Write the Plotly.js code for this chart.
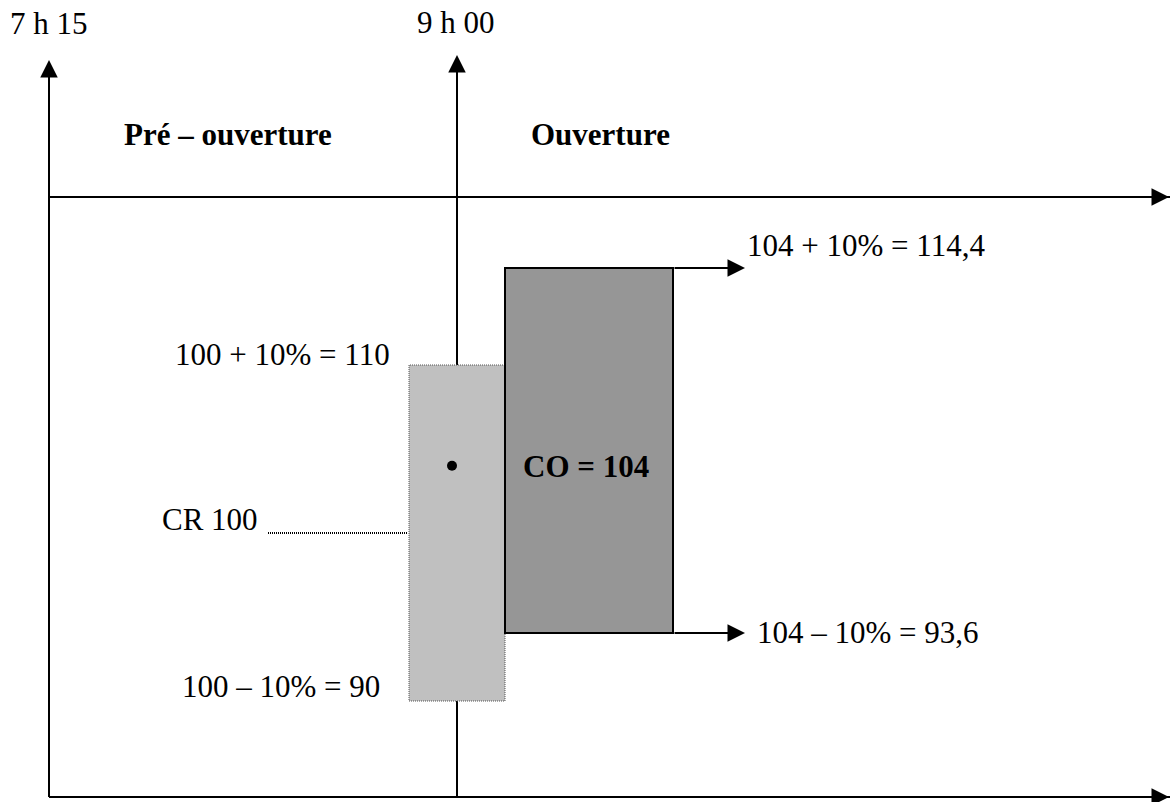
<!DOCTYPE html>
<html>
<head>
<meta charset="utf-8">
<script src="https://cdn.plot.ly/plotly-3.0.1.min.js"></script>
<style>
  html, body { margin: 0; padding: 0; background: #ffffff; overflow: hidden; }
  #chart { width: 1170px; height: 802px; }
</style>
</head>
<body>
<div id="chart"></div>
<script>
// ---- Data ----
const times = ["7 h 15", "9 h 00"];
const phases = ["Pré – ouverture", "Ouverture"];
const refPrices = [100, 104];          // CR 100 (pre-opening), CO = 104 (opening)
const lowPrices = [90, 93.6];          // lower limit of each band
const highPrices = [110, 114.4];       // upper limit of each band
const highLabels = ["100 + 10% = 110", "104 + 10% = 114,4"];
const lowLabels = ["100 – 10% = 90", "104 – 10% = 93,6"];
const refLabels = ["CR 100", "CO = 104"];

// ---- Layout (schematic positions) ----
const W = 1170, H = 802;
const FONT = "Liberation Serif, Times New Roman, serif";
const FS = 31;
const py = v => 1 - v / H;             // pixel row -> paper y
const axisX = [49, 457];               // 7 h 15 axis, 9 h 00 axis
const axisTipY = [60, 55];
const topLineY = 197, bottomLineY = 797;
const boxX = [[409, 505], [505, 673]];
const arrowEndX = 745;
const crLineX = [268, 408];
const dotX = 452;

const shapes = [];
// vertical time axes
axisX.forEach((x, i) => {
  shapes.push({type: "line", layer: "below", xref: "x", yref: "paper",
    x0: x, x1: x, y0: py(bottomLineY), y1: py(axisTipY[i] + 12),
    line: {color: "#000", width: 2}});
});
// horizontal lines
[topLineY, bottomLineY].forEach(y => {
  shapes.push({type: "line", layer: "below", xref: "x", yref: "paper",
    x0: axisX[0], x1: W, y0: py(y), y1: py(y), line: {color: "#000", width: 2}});
});
// pre-opening band (light box, dotted border)
shapes.push({type: "rect", layer: "below", xref: "x", yref: "y",
  x0: boxX[0][0], x1: boxX[0][1], y0: lowPrices[0], y1: highPrices[0],
  fillcolor: "#c0c0c0", line: {color: "#555", width: 1, dash: "1px,1px"}});
// opening band (dark box)
shapes.push({type: "rect", layer: "below", xref: "x", yref: "y2",
  x0: boxX[1][0], x1: boxX[1][1], y0: lowPrices[1], y1: highPrices[1],
  fillcolor: "#969696", line: {color: "#000", width: 2}});
// dotted leader for CR 100
shapes.push({type: "line", layer: "below", xref: "x", yref: "y",
  x0: crLineX[0], x1: crLineX[1], y0: refPrices[0], y1: refPrices[0],
  line: {color: "#000", width: 2, dash: "1px,1px"}});

const annotations = [];
const headStyle = {showarrow: true, arrowhead: 2, arrowsize: 1.75, arrowwidth: 2, arrowcolor: "#000", text: ""};
// arrow heads of vertical axes
axisX.forEach((x, i) => {
  annotations.push(Object.assign({}, headStyle, {xref: "x", yref: "paper",
    x: x, y: py(axisTipY[i]), axref: "pixel", ayref: "pixel", ax: 0, ay: 30}));
});
// arrow heads of horizontal lines (partly cut at the right edge)
[topLineY, bottomLineY].forEach(y => {
  annotations.push(Object.assign({}, headStyle, {xref: "paper", yref: "paper",
    x: (W + 8) / W, y: py(y), axref: "pixel", ayref: "pixel", ax: -40, ay: 0}));
});
// arrows from the opening band limits
[highPrices[1], lowPrices[1]].forEach(p => {
  annotations.push(Object.assign({}, headStyle, {xref: "x", yref: "y2",
    x: arrowEndX, y: p, axref: "x", ayref: "y2", ax: boxX[1][1], ay: p}));
});

const txt = (text, x, y, extra) => Object.assign({
  text: text, x: x, y: y, xref: "x", yref: "paper", showarrow: false,
  font: {family: FONT, size: FS, color: "#000"}, xanchor: "center", yanchor: "middle"
}, extra || {});

// times
annotations.push(txt(times[0], 48.5, py(23.5)));
annotations.push(txt(times[1], 456, py(22.5)));
// phases
annotations.push(txt("<b>" + phases[0] + "</b>", 227.5, py(134.5)));
annotations.push(txt("<b>" + phases[1] + "</b>", 600, py(134.5)));
// pre-opening labels
annotations.push(txt(highLabels[0], 392, highPrices[0], {yref: "y", xanchor: "right", yshift: 10.5}));
annotations.push(txt(lowLabels[0], 382, lowPrices[0], {yref: "y", xanchor: "right", yshift: 14.5}));
annotations.push(txt(refLabels[0], 260, refPrices[0], {yref: "y", xanchor: "right", yshift: 13.5}));
// opening labels
annotations.push(txt("<b>" + refLabels[1] + "</b>", 586, refPrices[1], {yref: "y2", yshift: -16}));
annotations.push(txt(highLabels[1], 745, highPrices[1], {yref: "y2", xanchor: "left", yshift: 22.5}));
annotations.push(txt(lowLabels[1], 755, lowPrices[1], {yref: "y2", xanchor: "left", yshift: 0.5}));

// the opening price (104) marked as a dot on the pre-opening scale
const traces = [{
  type: "scatter", mode: "markers", x: [dotX], y: [refPrices[1]], yaxis: "y",
  marker: {color: "#000", size: 10}, hoverinfo: "skip", showlegend: false
}];

const hidden = {visible: false, showgrid: false, zeroline: false, fixedrange: true};
const layout = {
  width: W, height: H,
  margin: {l: 0, r: 0, t: 0, b: 0, pad: 0},
  paper_bgcolor: "#fff", plot_bgcolor: "#fff",
  showlegend: false,
  xaxis: Object.assign({range: [0, W]}, hidden),
  // pre-opening price scale
  yaxis: Object.assign({range: [83.988, 131.726]}, hidden),
  // opening price scale
  yaxis2: Object.assign({range: [83.969, 129.672], overlaying: "y"}, hidden),
  shapes: shapes,
  annotations: annotations
};

Plotly.newPlot("chart", traces, layout, {displayModeBar: false, staticPlot: true});
</script>
</body>
</html>
